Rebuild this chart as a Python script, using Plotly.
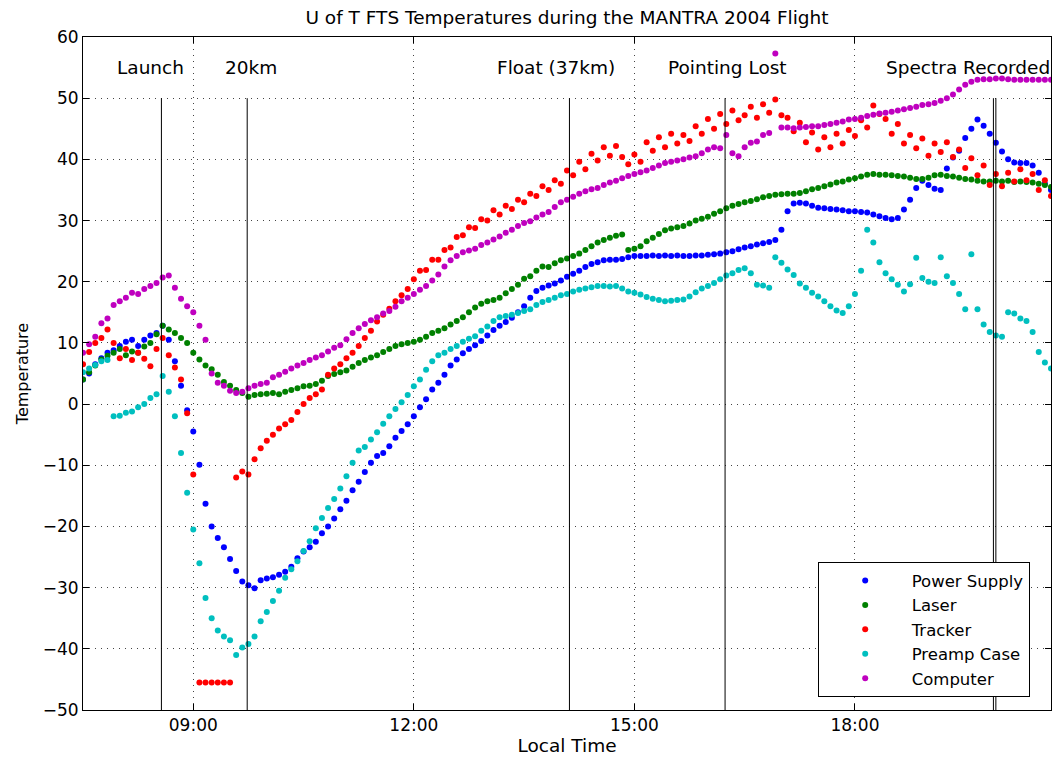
import pandas as pd
import plotly.graph_objects as go

# sampling grid of the logger (every 5 min, 07:30 -> 20:40 local time)
start_time = "2004-09-01 07:30"
times = pd.date_range(start_time, periods=159, freq="5min")

power_supply = [
    4.0, 5.0, 6.5, 7.5, 8.4, 8.8,
    9.5, 10.2, 10.5, 9.5, 10.5, 11.2, 11.6, 12.8, 10.5, 7.0, 3.0, -1.0,
    -4.5, -9.9, -16.3, -20.0, -21.9, -23.4, -25.3, -27.3, -29.0, -29.6, -30.1, -28.8,
    -28.5, -28.3, -27.9, -27.4, -26.6, -25.2, -24.1, -23.4, -22.5, -21.1, -20.0, -18.7,
    -17.2, -15.8, -14.1, -12.7, -11.1, -9.6, -8.5, -8.0, -6.9, -5.5, -4.4, -3.3,
    -2.0, -0.5, 0.8, 2.4, 3.5, 4.8, 6.3, 7.3, 8.3, 9.0, 9.6, 10.3,
    11.2, 12.1, 12.8, 13.4, 14.1, 15.0, 16.0, 17.4, 18.5, 19.0, 19.4, 19.7,
    20.2, 20.8, 21.3, 21.8, 22.4, 22.9, 23.2, 23.5, 23.6, 23.6, 23.7, 24.0,
    24.2, 24.2, 24.2, 24.3, 24.2, 24.3, 24.2, 24.3, 24.2, 24.2, 24.3, 24.3,
    24.4, 24.5, 24.6, 24.8, 25.0, 25.3, 25.6, 25.8, 26.1, 26.3, 26.5, 26.8,
    28.5, 31.5, 32.8, 32.9, 32.8, 32.4, 32.1, 32.0, 31.9, 31.8, 31.7, 31.5,
    31.5, 31.4, 31.3, 31.0, 30.7, 30.4, 30.2, 30.4, 31.8, 33.4, 35.3, 36.5,
    35.8, 35.2, 35.0, 38.5, 40.3, 41.4, 43.5, 45.0, 46.5, 45.5, 44.2, 42.7,
    41.3, 40.0, 39.5, 39.4, 39.4, 39.0, 37.8, 36.0, 35.0,
]

laser = [
    4.0, 5.2, 6.3, 7.3, 7.9, 8.4,
    9.0, 8.0, 8.6, 8.4, 9.4, 10.0, 11.4, 12.8, 12.2, 11.6, 10.8, 10.0,
    8.4, 7.3, 6.3, 5.7, 4.8, 3.6, 3.0, 2.3, 1.8, 1.2, 1.5, 1.6,
    1.7, 1.8, 1.6, 2.0, 2.3, 2.6, 2.9, 3.0, 3.3, 3.8, 4.6, 4.9,
    5.2, 5.5, 6.1, 6.7, 7.2, 7.6, 8.0, 8.5, 9.0, 9.5, 9.8, 10.0,
    10.2, 10.5, 11.0, 11.6, 12.0, 12.4, 13.0, 13.6, 14.2, 15.0, 15.8, 16.4,
    16.8, 17.0, 17.4, 18.1, 18.8, 19.5, 20.5, 20.9, 21.8, 22.5, 22.4, 23.0,
    23.5, 23.8, 24.2, 24.6, 25.2, 25.8, 26.4, 26.8, 27.2, 27.5, 27.7, 25.2,
    25.4, 25.8, 26.6, 27.2, 27.8, 28.4, 28.7, 28.9, 29.1, 29.5, 30.0, 30.3,
    30.6, 31.1, 31.5, 32.0, 32.4, 32.7, 33.0, 33.2, 33.5, 33.8, 34.0, 34.2,
    34.3, 34.4, 34.4, 34.5, 34.8, 35.1, 35.3, 35.6, 35.9, 36.2, 36.4, 36.7,
    36.9, 37.2, 37.5, 37.6, 37.5, 37.5, 37.4, 37.3, 37.2, 37.0, 36.8, 36.8,
    37.0, 37.4, 37.5, 37.3, 37.2, 37.0, 36.8, 36.7, 36.5, 36.4, 36.4, 36.5,
    36.4, 36.5, 36.3, 36.4, 36.3, 36.2, 36.0, 35.8, 35.5,
]

tracker = [
    6.5, 8.5, 10.0, 10.8, 12.2, 10.0,
    7.5, 9.0, 7.2, 8.4, 7.4, 6.2, 9.0, 10.8, 8.0, 6.0, 4.0, -1.5,
    -11.5, -45.5, -45.5, -45.5, -45.5, -45.5, -45.5, -12.0, -11.0, -11.5, -9.0, -7.2,
    -6.0, -5.0, -4.0, -3.3, -2.6, -1.3, 0.0, 1.0, 1.6, 2.4, 4.8, 5.8,
    6.5, 7.5, 8.4, 9.5, 10.8, 12.0, 13.5, 14.6, 15.6, 16.8, 17.8, 18.8,
    20.4, 21.8, 21.9, 23.6, 23.6, 25.2, 25.6, 27.3, 27.6, 28.9, 28.8, 30.2,
    30.0, 31.7, 31.0, 32.4, 31.9, 33.4, 33.0, 34.4, 34.0, 35.6, 35.0, 36.6,
    36.0, 38.2, 37.4, 39.6, 38.4, 40.9, 39.8, 42.0, 40.6, 42.2, 40.4, 39.2,
    40.8, 39.6, 42.8, 41.4, 43.6, 42.0, 44.2, 42.6, 44.0, 43.0, 45.4, 44.2,
    46.6, 45.0, 47.4, 45.8, 48.0, 46.4, 47.2, 48.6, 46.8, 49.0, 47.6, 49.8,
    47.2, 46.8, 44.6, 46.0, 42.8, 44.4, 41.6, 43.6, 42.0, 44.2, 42.6, 44.8,
    43.8, 46.4, 45.2, 48.8, 47.4, 46.6, 44.2, 45.8, 42.6, 44.0, 41.8, 43.4,
    40.6, 42.6, 41.2, 42.8, 40.4, 41.6, 38.6, 40.2, 37.4, 39.0, 35.8, 37.6,
    35.6, 37.8, 36.4, 38.4, 36.6, 37.6, 35.0, 36.6, 34.0,
]

preamp_case = [
    5.2, 5.8, 6.4, 7.0, 7.2, -2.0,
    -1.9, -1.4, -1.2, -0.5, 0.0, 1.0, 1.6, 4.6, 2.0, -2.0, -8.0, -14.5,
    -20.5, -26.0, -31.7, -35.0, -37.0, -38.0, -38.6, -41.0, -39.8, -39.2, -38.0, -35.5,
    -34.0, -32.2, -30.5, -28.4, -27.0, -25.7, -24.0, -22.4, -20.3, -18.6, -17.0, -15.5,
    -13.8, -11.8, -9.6, -7.6, -7.0, -5.8, -4.6, -3.2, -2.0, -0.8, 0.3, 1.5,
    2.9, 4.0, 5.6, 7.0, 8.0, 8.4, 9.0, 9.5, 10.2, 10.7, 11.1, 12.0,
    12.7, 13.6, 14.2, 14.4, 14.6, 14.9, 15.2, 15.5, 16.2, 16.7, 17.0, 17.4,
    17.8, 18.0, 18.4, 18.7, 18.9, 19.1, 19.3, 19.3, 19.2, 19.3, 18.9, 18.4,
    18.2, 17.9, 17.5, 17.2, 17.0, 16.8, 16.9, 17.0, 17.1, 17.6, 18.3, 18.9,
    19.3, 19.8, 20.4, 21.0, 21.4, 21.9, 22.2, 21.4, 19.5, 19.4, 19.0, 24.0,
    23.1, 22.0, 21.1, 19.7, 19.0, 18.2, 17.6, 16.8, 16.0, 15.3, 14.9, 16.0,
    18.0, 21.8, 28.5, 26.4, 23.2, 21.4, 20.4, 19.5, 18.4, 19.6, 23.9, 20.6,
    20.0, 19.8, 24.0, 20.9, 19.8, 18.0, 15.5, 24.5, 15.5, 13.0, 11.8, 11.2,
    11.0, 15.0, 14.8, 14.0, 13.6, 11.8, 8.5, 6.8, 5.8,
]

computer = [
    8.4, 9.8, 11.0, 13.2, 14.0, 16.2,
    16.8, 17.4, 18.2, 18.0, 18.8, 19.3, 19.8, 20.7, 21.0, 19.0, 17.2, 16.0,
    15.0, 12.8, 10.5, 5.0, 3.5, 3.0, 2.2, 1.8, 2.0, 2.6, 3.0, 3.3,
    3.5, 4.4, 4.8, 5.3, 5.8, 6.3, 6.7, 7.2, 7.6, 8.0, 8.6, 9.2,
    9.6, 10.6, 11.6, 12.4, 13.1, 13.7, 14.2, 14.8, 15.2, 15.9, 16.8, 17.4,
    18.0, 18.7, 19.3, 20.2, 21.2, 22.5, 23.5, 24.2, 24.8, 25.1, 25.4, 26.0,
    26.4, 26.9, 27.4, 28.0, 28.5, 29.1, 29.6, 29.9, 30.5, 31.0, 31.4, 32.2,
    33.0, 33.4, 33.9, 34.4, 34.8, 35.1, 35.3, 35.8, 36.2, 36.5, 36.9, 37.3,
    37.6, 37.9, 38.2, 38.6, 39.0, 39.4, 39.6, 39.8, 40.0, 40.3, 40.5, 41.0,
    41.6, 42.0, 41.8, 44.0, 41.0, 40.5, 42.0, 42.7, 42.9, 44.0, 44.3, 57.3,
    45.2, 45.2, 45.1, 45.2, 45.3, 45.4, 45.4, 45.6, 45.8, 46.0, 46.2, 46.5,
    46.6, 46.8, 47.1, 47.3, 47.5, 47.6, 47.8, 48.0, 48.2, 48.4, 48.6, 48.9,
    49.0, 49.2, 49.6, 50.0, 50.6, 51.4, 52.2, 52.7, 53.0, 53.1, 53.1, 53.2,
    53.2, 53.1, 53.0, 53.0, 53.0, 53.0, 53.0, 53.0, 53.0,
]

series_names = ["Power Supply", "Laser", "Tracker", "Preamp Case", "Computer"]
series_colors = ["#0000ff", "#008000", "#ff0000", "#00bfbf", "#bf00bf"]

# flight events (vertical markers) and their labels
event_times = ["2004-09-01 08:34", "2004-09-01 09:44", "2004-09-01 14:07",
               "2004-09-01 16:14", "2004-09-01 19:53", "2004-09-01 19:55"]
label_times = ["2004-09-01 08:25", "2004-09-01 09:47", "2004-09-01 13:56",
               "2004-09-01 16:16", "2004-09-01 19:32"]
event_labels = ["Launch", "20km", "Float (37km)", "Pointing Lost", "Spectra Recorded"]

font = "DejaVu Sans, Arial, sans-serif"
text_size = 18.5
tick_size = 17

fig = go.Figure()
all_series = [power_supply, laser, tracker, preamp_case, computer]
for name, color, vals in zip(series_names, series_colors, all_series):
    fig.add_trace(go.Scatter(x=times, y=vals, mode="markers", name=name,
                             marker=dict(color=color, size=6, line=dict(width=0))))

for t in event_times:
    fig.add_shape(type="line", x0=t, x1=t, y0=-50, y1=50, xref="x", yref="y",
                  line=dict(color="black", width=1))

for t, txt in zip(label_times, event_labels):
    fig.add_annotation(x=t, y=55, text=txt, showarrow=False, xanchor="center",
                       font=dict(size=text_size, color="black"))

# page body has an 8px margin, so the figure is a bit smaller than the window
fig.update_layout(
    width=1052, height=751,
    margin=dict(l=75, r=9, t=29, b=49),
    paper_bgcolor="white", plot_bgcolor="white",
    font=dict(family=font, size=tick_size, color="black"),
    title=dict(text="U of T FTS Temperatures during the MANTRA 2004 Flight",
               x=0.5, xref="paper", y=0.987, yanchor="middle",
               font=dict(size=text_size)),
    legend=dict(x=0.978, y=0.019, xanchor="right", yanchor="bottom",
                bgcolor="white", bordercolor="black", borderwidth=1,
                font=dict(size=16.5), itemwidth=83, tracegroupgap=0),
    showlegend=True,
)

grid_dash = "1px,5px"
fig.update_xaxes(
    type="date",
    range=["2004-09-01 07:30", "2004-09-01 20:40"],
    tickvals=["2004-09-01 09:00", "2004-09-01 12:00", "2004-09-01 15:00", "2004-09-01 18:00"],
    tickformat="%H:%M",
    ticks="inside", ticklen=6, tickcolor="black",
    showline=True, linecolor="black", linewidth=1, mirror="ticks",
    showgrid=True, gridcolor="#444", griddash=grid_dash, gridwidth=1,
    zeroline=False, automargin=False,
    title=dict(text="Local Time", standoff=0, font=dict(size=text_size)),
)
fig.update_yaxes(
    range=[-50, 60],
    tickvals=list(range(-50, 61, 10)),
    ticks="inside", ticklen=6, tickcolor="black",
    showline=True, linecolor="black", linewidth=1, mirror="ticks",
    showgrid=True, gridcolor="#444", griddash=grid_dash, gridwidth=1,
    zeroline=False, automargin=False,
    title=dict(text="Temperature", standoff=10, font=dict(size=16)),
)

fig.write_html("out.html")
